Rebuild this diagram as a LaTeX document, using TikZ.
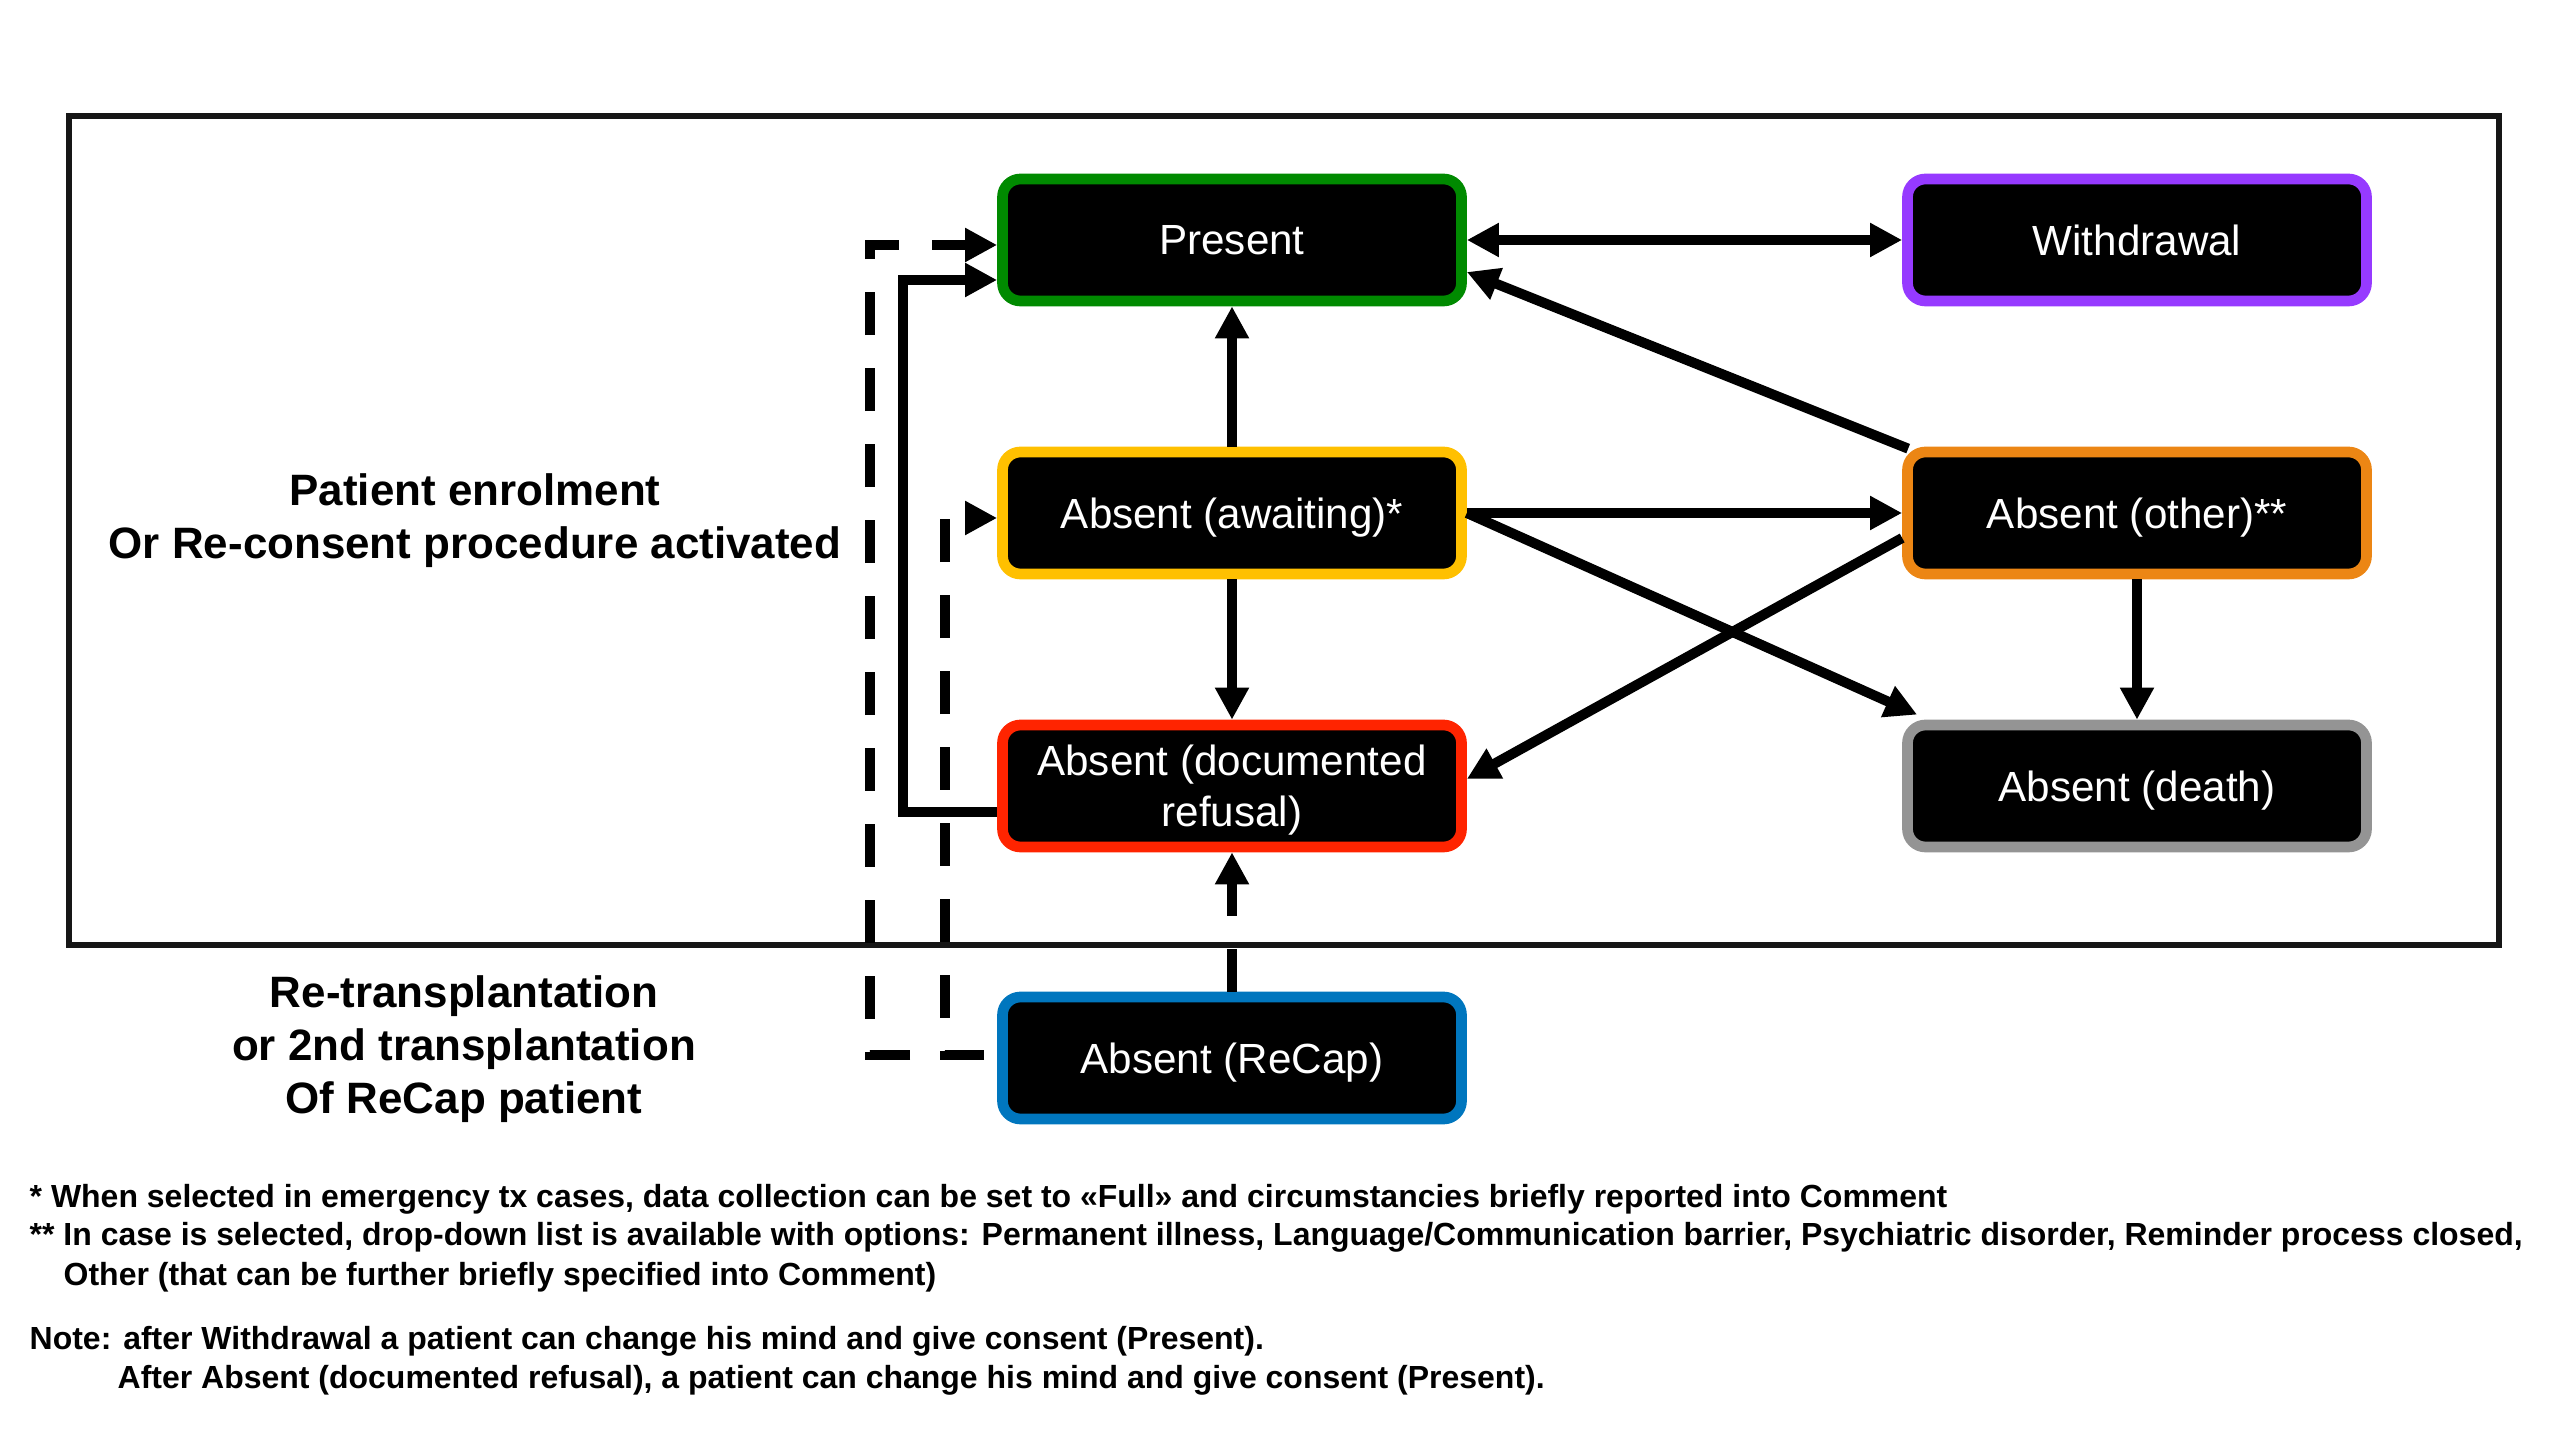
\documentclass[tikz,border=0pt]{standalone}
\usepackage{fontspec}
\setmainfont{Liberation Sans}
\usetikzlibrary{arrows.meta,positioning}
\definecolor{pGreen}{RGB}{0,138,0}
\definecolor{pPurple}{RGB}{150,58,255}
\definecolor{pYellow}{RGB}{255,192,0}
\definecolor{pOrange}{RGB}{236,134,20}
\definecolor{pRed}{RGB}{255,36,0}
\definecolor{pGray}{RGB}{148,148,148}
\definecolor{pBlue}{RGB}{0,118,190}
\definecolor{pFrame}{RGB}{22,22,22}
\tikzset{
    >={Triangle[length=3.2mm,width=3.2mm]},
    state/.style={rectangle, rounded corners=1.8mm, draw, line width=1.07mm, fill=black, text=white,
        minimum width=45.9mm, minimum height=12.2mm, inner sep=0pt, align=center, text depth=0pt,
        font=\fontsize{12}{14.5}\selectfont},
    trans/.style={line width=1mm, ->},
    dtrans/.style={trans, dash pattern=on 4.3mm off 3.3mm},
    lbl/.style={align=center, font=\fontsize{12.5}{15}\selectfont\bfseries},
    fnote/.style={anchor=base west, inner sep=0pt, font=\fontsize{9.1}{11}\selectfont\bfseries}
}

\begin{document}
\begin{tikzpicture}[x=0.1mm,y=-0.1mm]
\useasboundingbox (0,0) rectangle (2560,1440);
\draw[line width=0.57mm,pFrame] (69,116) rectangle (2499,945);
% states
\node[state,draw=pGreen]  (present)    at (1232, 240) {Present};
\node[state,draw=pPurple] (withdrawal) at (2137, 240) {Withdrawal};
\node[state,draw=pYellow] (awaiting)   at (1232, 513) {Absent (awaiting)*};
\node[state,draw=pOrange] (other)      at (2137, 513) {Absent (other)**};
\node[state,draw=pRed]    (refusal)    at (1232, 786) {Absent (documented\\refusal)};
\node[state,draw=pGray]   (death)      at (2137, 786) {Absent (death)};
\node[state,draw=pBlue]   (recap)      at (1232,1058) {Absent (ReCap)};
% side labels
\node[lbl] (enrol) at (475, 521) {Patient enrolment\\Or Re-consent procedure activated};
\node[lbl] (retx)  at (464,1049) {Re-transplantation\\or 2nd transplantation\\Of ReCap patient};
% transitions
\draw[trans,<->] (present) -- (withdrawal);
\draw[trans] (awaiting.north) -- (present.south);
\draw[trans] (awaiting.south) -- (refusal.north);
\draw[trans] (awaiting.east) -- (other.west);
\draw[trans] (awaiting.east) -- ([shift={(15,-5)}]death.north west);
\draw[trans] ([shift={(6,2)}]other.north west) -- ([yshift=-3.2mm]present.east);
\draw[trans] ([yshift=-2.5mm]other.west) -- ([yshift=0.7mm]refusal.east);
\draw[trans] (other.south) -- (death.north);
\draw[dtrans] (recap.north) -- (refusal.south);
\draw[trans] ([yshift=-2.6mm]refusal.west) -| ([xshift=-9.4mm,yshift=-4mm]present.west) -- ([yshift=-4mm]present.west);
\draw[dtrans] ([xshift=-8.7mm,yshift=0.3mm]recap.west) -| ([xshift=-12.7mm,yshift=-0.5mm]present.west) -- ([yshift=-0.5mm]present.west);
\draw[dtrans] ([xshift=-1.3mm,yshift=0.3mm]recap.west) -| ([xshift=-5.2mm,yshift=-0.5mm]awaiting.west) -- ([yshift=-0.5mm]awaiting.west);
% notes
\node[fnote] (fn1)   at (29,1207) {* When selected in emergency tx cases, data collection can be set to «Full» and circumstancies briefly reported into Comment};
\node[fnote] (fn2)   at (29,1246) {** In case is selected, drop-down list is available with options: Permanent illness, Language/Communication barrier, Psychiatric disorder, Reminder process closed,};
\node[fnote] (fn3)   at (63,1285) {Other (that can be further briefly specified into Comment)};
\node[fnote] (note1) at (29,1349) {Note: after Withdrawal a patient can change his mind and give consent (Present).};
\node[fnote] (note2) at (117,1388) {After Absent (documented refusal), a patient can change his mind and give consent (Present).};
\end{tikzpicture}
\end{document}
